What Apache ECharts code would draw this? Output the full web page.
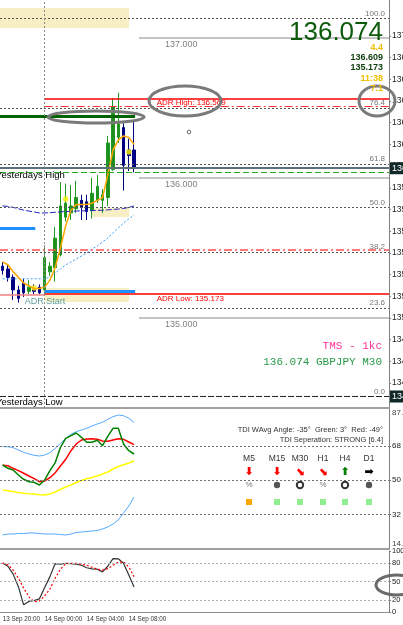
<!DOCTYPE html>
<html>
<head>
<meta charset="utf-8">
<title>GBPJPY M30</title>
<script src="https://cdn.jsdelivr.net/npm/echarts@6.0.0/dist/echarts.min.js"></script>
<style>
  html, body { margin: 0; padding: 0; background: #fff; }
  #chart { width: 403px; height: 625px; }
</style>
</head>
<body>
<div id="chart"></div>
<script>
// M30 bars, 13 Sep 20:00 .. 14 Sep 08:30
const times = [
  '13 Sep 20:00', '13 Sep 20:30', '13 Sep 21:00', '13 Sep 21:30', '13 Sep 22:00', '13 Sep 22:30',
  '13 Sep 23:00', '13 Sep 23:30', '14 Sep 00:00', '14 Sep 00:30', '14 Sep 01:00', '14 Sep 01:30',
  '14 Sep 02:00', '14 Sep 02:30', '14 Sep 03:00', '14 Sep 03:30', '14 Sep 04:00', '14 Sep 04:30',
  '14 Sep 05:00', '14 Sep 05:30', '14 Sep 06:00', '14 Sep 06:30', '14 Sep 07:00', '14 Sep 07:30',
  '14 Sep 08:00', '14 Sep 08:30'
]
const opens = [135.37, 135.35, 135.29, 135.20, 135.25, 135.19, 135.21, 135.22, 135.20, 135.33, 135.36, 135.45, 135.72,
  135.75, 135.78, 135.84, 135.83, 135.77, 135.84, 135.84, 135.86, 136.06, 136.29, 136.36, 136.20, 136.20]
const closes = [135.34, 135.29, 135.20, 135.14, 135.18, 135.22, 135.19, 135.18, 135.43, 135.37, 135.57, 135.80, 135.82,
  135.80, 135.86, 135.79, 135.76, 135.89, 135.94, 135.88, 136.25, 136.51, 136.39, 136.09, 136.16, 136.074]
const lows = [135.31, 135.26, 135.13, 135.11, 135.15, 135.17, 135.17, 135.17, 135.173, 135.30, 135.26, 135.44, 135.69,
  135.70, 135.75, 135.70, 135.70, 135.71, 135.82, 135.75, 135.80, 136.05, 136.25, 135.91, 136.05, 136.04]
const highs = [135.40, 135.38, 135.31, 135.23, 135.28, 135.27, 135.24, 135.24, 135.52, 135.40, 135.65, 135.97, 135.96,
  135.95, 135.98, 135.88, 135.88, 136.00, 136.02, 135.92, 136.30, 136.57, 136.609, 136.39, 136.28, 136.40]

// moving averages on the price panel
const maFast = [135.40, 135.38, 135.33, 135.29, 135.25, 135.23, 135.21, 135.21, 135.22, 135.27, 135.36, 135.50, 135.66,
  135.77, 135.81, 135.81, 135.81, 135.82, 135.84, 135.86, 136.02, 136.20, 136.27, 136.30, 136.29, 136.24]
const maSlow = [135.800, 135.797, 135.790, 135.780, 135.770, 135.764, 135.757, 135.750, 135.750, 135.752, 135.755,
  135.758, 135.760, 135.762, 135.764, 135.765, 135.766, 135.767, 135.768, 135.770, 135.772, 135.775, 135.778,
  135.782, 135.790, 135.800]
const maTrail = [135.28, 135.28, 135.28, 135.28, 135.28, 135.28, 135.28, 135.28, 135.28, 135.293, 135.321, 135.35,
  135.379, 135.40, 135.421, 135.443, 135.464, 135.493, 135.514, 135.543, 135.571, 135.607, 135.643, 135.679,
  135.707, 135.736]
const dotBars = [6, 12, 24]
const dotPrices = [135.214, 135.85, 136.186]

// price levels
const priceTicks = [134.535, 134.690, 134.845, 135.000, 135.155, 135.310, 135.465, 135.620, 135.775, 135.930,
  136.085, 136.240, 136.395, 136.550, 136.705, 136.860, 137.015]
const fibLevels = [0, 23.6, 38.2, 50, 61.8, 76.4, 100]
const fibLow = 134.436
const fibHigh = 137.136
const roundLevels = [135, 136, 137]
const adrHigh = 136.569
const adrLow = 135.173
const bid = 136.074
const dayHigh = 136.609
const dayLow = 135.173
const yestHigh = 136.043
const pivotHigh = 136.514
const pivotLow = 135.486
const greenLevel = 136.443
const blueLevel = 135.643
const adrStartLevel = 135.193
const preLowLevel = 135.164
const spread = '4.4'
const timeLeft = '11:38'
const adrPips = '7.1'

// TDI panel
const tdiTicks = [32, 50, 68]
const tdiUpper = [67.56, 67.56, 67.04, 65.83, 64.63, 63.74, 63.06, 62.69, 63.22, 64.42, 66.72, 69.34, 71.96, 74.05,
  75.42, 76.31, 77.2, 78.4, 79.45, 80.34, 81.91, 83.27, 84.16, 83.79, 82.43, 80.34]
const tdiLower = [21.33, 21.86, 21.86, 22.12, 22.12, 22.38, 22.38, 22.12, 21.86, 21.86, 21.86, 21.59, 21.33, 21.86,
  22.64, 22.9, 23.16, 23.43, 23.69, 24.47, 25.52, 27.09, 29.19, 32.85, 36.51, 41.23]
const tdiRed = [57.82, 57.61, 56.25, 55.0, 53.64, 52.22, 50.81, 49.24, 49.6, 51.33, 53.95, 57.46, 60.97, 65.47, 68.98,
  71.07, 71.59, 71.75, 71.44, 70.55, 70.39, 71.07, 71.75, 71.44, 70.02, 68.61]
const tdiGreen = [57.98, 56.25, 55.36, 52.74, 50.49, 49.24, 48.92, 47.51, 50.13, 54.99, 59.19, 67.25, 71.96, 73.32,
  74.73, 72.48, 69.87, 69.87, 70.91, 68.09, 73.01, 77.2, 77.2, 68.98, 65.47, 63.74]
const tdiYellow = [44.89, 44.53, 44.11, 43.58, 43.16, 42.95, 42.8, 42.43, 42.27, 42.8, 43.84, 45.15, 46.46, 47.51,
  48.82, 49.87, 50.81, 51.44, 52.22, 53.27, 54.32, 55.89, 57.2, 58.14, 59.03, 60.07]
const tfNames = ['M5', 'M15', 'M30', 'H1', 'H4', 'D1']
const tfArrows = ['⬇', '⬇', '⬊', '⬊', '⬆', '➡']
const tfArrowColors = ['#ff0000', '#ff0000', '#ff0000', '#ff0000', '#008000', '#000000']
const tfStates = ['cross', 'dot', 'ring', 'cross', 'ring', 'dot']
const tfBoxColors = ['#ffa500', '#90ee90', '#90ee90', '#90ee90', '#90ee90', '#90ee90']

// stochastic panel
const stochTicks = [0, 20, 50, 80, 100]
const stochMain = [80.4, 75.0, 62.1, 41.5, 11.8, 17.2, 18.8, 21.6, 40.0, 58.0, 79.4, 78.3, 79.9, 79.1, 78.3, 76.7,
  72.6, 70.7, 70.2, 65.8, 75.0, 87.5, 87.2, 79.9, 60.5, 41.0]
const stochSignal = [80.4, 77.5, 68.6, 55.6, 39.4, 24.8, 16.7, 18.3, 26.4, 37.8, 55.6, 70.2, 79.1, 79.9, 79.9, 78.3,
  76.7, 73.4, 70.2, 68.6, 71.0, 76.7, 81.5, 82.3, 73.9, 57.7]
const timeTicksA = [0, 16]
const timeTicksB = [8, 24]

const FONT = 'Liberation Sans'
const BARS = 74 // visible slots incl. right shift
const lastSlot = BARS - 0.5

const pts = arr => arr.map((v, i) => [i, v])

function seg(price, x0, x1, lineStyle, label) {
  return [{ coord: [x0, price], lineStyle: lineStyle, label: label || { show: false } }, { coord: [x1, price] }]
}

const fibLines = fibLevels.map(l => ({
  yAxis: fibLow + (fibHigh - fibLow) * l / 100,
  lineStyle: { color: '#555', type: [2, 2], width: 1 },
  label: { show: true, position: 'insideEndTop', formatter: l.toFixed(1), color: '#777', fontSize: 8, distance: [4, 1] }
}))

const roundLines = roundLevels.map(l => seg(l, 25.94, lastSlot,
  { color: '#c4c4c4', width: 2, type: 'solid' },
  { show: true, position: 'insideStartBottom', formatter: l.toFixed(3), color: '#808080', fontSize: 9, distance: [26, 2] }))

const mainLines = [
  ...fibLines,
  ...roundLines,
  seg(adrHigh, 8, lastSlot, { color: '#ff0000', width: 1.5, type: 'solid' },
    { show: true, position: 'insideStartBottom', formatter: 'ADR High: ' + adrHigh.toFixed(3), color: '#ff0000', fontSize: 8, distance: [112, 1] }),
  seg(pivotHigh, 8, lastSlot, { color: '#ff3030', width: 1, type: [8, 3, 2, 3] }),
  { yAxis: pivotLow, lineStyle: { color: '#ff5050', width: 1.5, type: [8, 3, 2, 3] } },
  seg(greenLevel, -0.5, 25.2, { color: '#006400', width: 3, type: 'solid' }),
  {
    yAxis: bid, lineStyle: { color: '#5f6f78', width: 2, type: 'solid' },
    label: { show: true, position: 'end', formatter: bid.toFixed(3), backgroundColor: '#102828', color: '#fff', fontSize: 9, padding: [2, 2, 1, 2], distance: [1, 0] }
  },
  { yAxis: yestHigh, lineStyle: { color: '#22aa22', width: 1, type: [6, 3] } },
  seg(blueLevel, -0.5, 6.2, { color: '#1e90ff', width: 3, type: 'solid' }),
  seg(preLowLevel, -0.5, 8, { color: '#f08080', width: 1.5, type: 'solid' }),
  seg(adrStartLevel, 8, 25.2, { color: '#1e90ff', width: 3, type: 'solid' }),
  seg(adrLow, 8, lastSlot, { color: '#ff0000', width: 1.5, type: 'solid' },
    { show: true, position: 'insideStartBottom', formatter: 'ADR Low: ' + adrLow.toFixed(3), color: '#ff0000', fontSize: 8, distance: [112, 1] }),
  {
    yAxis: fibLow, lineStyle: { color: '#222', width: 1, type: [6, 2] },
    label: { show: true, position: 'end', formatter: fibLow.toFixed(3), backgroundColor: '#102828', color: '#fff', fontSize: 9, padding: [2, 2, 1, 2], distance: [1, 0] }
  },
  { xAxis: 8, lineStyle: { color: '#888', width: 1, type: [2, 2] } }
]

const zones = [
  [{ coord: [-0.5, 137.214] }, { coord: [24.04, 137.071] }],
  [{ coord: [17.0, 135.786] }, { coord: [24.04, 135.721] }],
  [{ coord: [8.06, 135.214] }, { coord: [24.04, 135.114] }]
]

const dotted = c => ({ color: c, width: 1, type: [2, 2] })

// text / drawing objects
const tfX = [249, 277, 300, 323, 345, 369]
const graphics = [
  { type: 'ellipse', shape: { cx: 96, cy: 117, rx: 48, ry: 6 }, style: { fill: 'none', stroke: '#7a7a7a', lineWidth: 3 }, z: 50 },
  { type: 'ellipse', shape: { cx: 185, cy: 101, rx: 36, ry: 15 }, style: { fill: 'none', stroke: '#7a7a7a', lineWidth: 3 }, z: 50 },
  { type: 'ellipse', shape: { cx: 377, cy: 101, rx: 18, ry: 15 }, style: { fill: 'none', stroke: '#7a7a7a', lineWidth: 3 }, z: 50 },
  { type: 'ellipse', shape: { cx: 397, cy: 585, rx: 21, ry: 10 }, style: { fill: 'none', stroke: '#6a6a6a', lineWidth: 3 }, z: 50 },
  { type: 'circle', shape: { cx: 189, cy: 132, r: 1.8 }, style: { fill: 'none', stroke: '#666', lineWidth: 1 }, z: 50 },
  { type: 'text', x: 383, y: 33, style: { text: bid.toFixed(3), fill: '#0a5a0a', font: '26px ' + FONT, align: 'right', verticalAlign: 'middle' }, z: 50 },
  { type: 'text', x: 383, y: 48, style: { text: spread, fill: '#f0c000', font: 'bold 9px ' + FONT, align: 'right', verticalAlign: 'middle' }, z: 50 },
  { type: 'text', x: 383, y: 58, style: { text: dayHigh.toFixed(3), fill: '#0d3d0d', font: 'bold 9px ' + FONT, align: 'right', verticalAlign: 'middle' }, z: 50 },
  { type: 'text', x: 383, y: 68, style: { text: dayLow.toFixed(3), fill: '#0d3d0d', font: 'bold 9px ' + FONT, align: 'right', verticalAlign: 'middle' }, z: 50 },
  { type: 'text', x: 383, y: 79, style: { text: timeLeft, fill: '#f0c000', font: 'bold 9px ' + FONT, align: 'right', verticalAlign: 'middle' }, z: 50 },
  { type: 'text', x: 383, y: 89, style: { text: adrPips, fill: '#f0c000', font: 'bold 9px ' + FONT, align: 'right', verticalAlign: 'middle' }, z: 50 },
  { type: 'text', x: -4, y: 175, style: { text: 'Yesterdays High', fill: '#000', font: '9.5px ' + FONT, align: 'left', verticalAlign: 'middle' }, z: 50 },
  { type: 'text', x: -4, y: 402, style: { text: 'Yesterdays Low', fill: '#000', font: '9.5px ' + FONT, align: 'left', verticalAlign: 'middle' }, z: 50 },
  { type: 'text', x: 45, y: 302, style: { text: 'ADR Start', fill: '#5f9ea0', font: '9px ' + FONT, align: 'center', verticalAlign: 'middle' }, z: 50 },
  { type: 'text', x: 382, y: 346, style: { text: 'TMS - 1kc', fill: '#ff3399', font: '11px Liberation Mono', align: 'right', verticalAlign: 'middle' }, z: 50 },
  { type: 'text', x: 382, y: 362, style: { text: bid.toFixed(3) + ' GBPJPY M30', fill: '#2a9a4a', font: '11px Liberation Mono', align: 'right', verticalAlign: 'middle' }, z: 50 },
  { type: 'text', x: 392, y: 413, style: { text: '87.2', fill: '#444', font: '8px ' + FONT, align: 'left', verticalAlign: 'middle' }, z: 50 },
  { type: 'text', x: 392, y: 544, style: { text: '14.1', fill: '#444', font: '8px ' + FONT, align: 'left', verticalAlign: 'middle' }, z: 50 },
  { type: 'text', x: 383, y: 430, style: { text: 'TDI WAvg Angle: -35°  Green: 3°  Red: -49°', fill: '#333', font: '7.5px ' + FONT, align: 'right', verticalAlign: 'middle' }, z: 50 },
  { type: 'text', x: 383, y: 440, style: { text: 'TDI Seperation: STRONG [6.4]', fill: '#333', font: '7.5px ' + FONT, align: 'right', verticalAlign: 'middle' }, z: 50 }
]
tfNames.forEach((name, k) => {
  const x = tfX[k]
  graphics.push({ type: 'text', x: x, y: 459, style: { text: name, fill: '#333', font: '8.5px ' + FONT, align: 'center', verticalAlign: 'middle' }, z: 50 })
  graphics.push({ type: 'text', x: x, y: 472, style: { text: tfArrows[k], fill: tfArrowColors[k], font: 'bold 11px DejaVu Sans', align: 'center', verticalAlign: 'middle' }, z: 50 })
  if (tfStates[k] === 'dot') {
    graphics.push({ type: 'circle', shape: { cx: x, cy: 485, r: 3.2 }, style: { fill: '#555' }, z: 50 })
  } else if (tfStates[k] === 'ring') {
    graphics.push({ type: 'circle', shape: { cx: x, cy: 485, r: 3.2 }, style: { fill: 'none', stroke: '#333', lineWidth: 2 }, z: 50 })
  } else {
    graphics.push({ type: 'text', x: x, y: 485, style: { text: '%', fill: '#777', font: '8px ' + FONT, align: 'center', verticalAlign: 'middle' }, z: 50 })
  }
  graphics.push({ type: 'rect', shape: { x: x - 3, y: 499, width: 6, height: 6 }, style: { fill: tfBoxColors[k] }, z: 50 })
})

const chart = echarts.init(document.getElementById('chart'))

const xAxisBase = g => ({
  gridIndex: g,
  type: 'value',
  position: 'bottom',
  min: -0.5,
  max: lastSlot,
  axisLine: { show: true, onZero: false, lineStyle: { color: '#a0a0a0', width: 2 } },
  axisTick: { show: false },
  splitLine: { show: false },
  axisLabel: { show: false }
})

// time labels are split over two bottom axes so neighbours never collide
const timeAxis = ticks => Object.assign(xAxisBase(2), {
  axisLine: { show: true, onZero: false, lineStyle: { color: '#909090', width: 1 } },
  axisLabel: {
    show: true, customValues: ticks, formatter: v => times[Math.round(v)],
    align: 'left', fontSize: 6.3, color: '#333', margin: 4, fontFamily: FONT, hideOverlap: false
  }
})

const yAxisBase = (g, min, max, ticks, fmt, size) => ({
  gridIndex: g,
  type: 'value',
  position: 'right',
  min: min,
  max: max,
  axisLine: { show: true, onZero: false, lineStyle: { color: '#808080' } },
  axisTick: { show: true, length: 2, customValues: ticks, lineStyle: { color: '#808080' } },
  splitLine: { show: false },
  axisLabel: { customValues: ticks, formatter: fmt, fontSize: size, color: '#222', margin: 3, fontFamily: FONT, hideOverlap: false }
})

chart.setOption({
  animation: false,
  backgroundColor: '#fff',
  textStyle: { fontFamily: FONT },
  grid: [
    { left: 0, right: 14, top: 0, height: 408, outerBoundsMode: 'none', containLabel: false },
    { left: 0, right: 14, top: 409, height: 140, outerBoundsMode: 'none', containLabel: false },
    { left: 0, right: 14, top: 551, height: 61, outerBoundsMode: 'none', containLabel: false }
  ],
  xAxis: [
    xAxisBase(0),
    xAxisBase(1),
    timeAxis(timeTicksA),
    timeAxis(timeTicksB)
  ],
  yAxis: [
    yAxisBase(0, 134.357, 137.271, priceTicks, v => v.toFixed(3), 8.5),
    yAxisBase(1, 14, 87.3, tdiTicks, v => String(v), 8),
    yAxisBase(2, 0, 100, stochTicks, v => String(v), 7.5)
  ],
  series: [
    {
      type: 'candlestick',
      xAxisIndex: 0,
      yAxisIndex: 0,
      barWidth: 3,
      data: times.map((t, i) => [i, opens[i], closes[i], lows[i], highs[i]]),
      itemStyle: { color: '#1f8f1f', color0: '#000080', borderColor: '#1f9a1f', borderColor0: '#000080', borderWidth: 1 }
    },
    {
      type: 'line',
      name: 'trail',
      xAxisIndex: 0,
      yAxisIndex: 0,
      data: pts(maTrail),
      symbol: 'none',
      lineStyle: dotted('#3399ff'),
      markArea: { silent: true, itemStyle: { color: '#f7efc3' }, data: zones }
    },
    {
      type: 'line',
      name: 'slow',
      xAxisIndex: 0,
      yAxisIndex: 0,
      data: pts(maSlow),
      symbol: 'none',
      lineStyle: { color: '#2525c0', width: 1, type: [6, 2] }
    },
    {
      type: 'line',
      name: 'fast',
      xAxisIndex: 0,
      yAxisIndex: 0,
      data: pts(maFast),
      symbol: 'none',
      lineStyle: { color: '#ffa500', width: 1.5 },
      markLine: { silent: true, symbol: ['none', 'none'], label: { show: false }, data: mainLines }
    },
    {
      type: 'scatter',
      xAxisIndex: 0,
      yAxisIndex: 0,
      data: dotBars.map((b, k) => [b, dotPrices[k]]),
      symbolSize: 5,
      itemStyle: { color: '#ffff00', borderColor: '#e0d000', borderWidth: 0.5 }
    },
    {
      type: 'line', xAxisIndex: 1, yAxisIndex: 1, data: pts(tdiUpper), symbol: 'none',
      lineStyle: { color: '#55aaff', width: 1 },
      markLine: {
        silent: true, symbol: ['none', 'none'], label: { show: false },
        data: tdiTicks.map(v => ({ yAxis: v, lineStyle: { color: '#707070', width: 1, type: [2, 2] } }))
      }
    },
    { type: 'line', xAxisIndex: 1, yAxisIndex: 1, data: pts(tdiLower), symbol: 'none', lineStyle: { color: '#55aaff', width: 1 } },
    { type: 'line', xAxisIndex: 1, yAxisIndex: 1, data: pts(tdiYellow), symbol: 'none', lineStyle: { color: '#ffff00', width: 1.5 } },
    { type: 'line', xAxisIndex: 1, yAxisIndex: 1, data: pts(tdiRed), symbol: 'none', lineStyle: { color: '#ff0000', width: 1.5 } },
    { type: 'line', xAxisIndex: 1, yAxisIndex: 1, data: pts(tdiGreen), symbol: 'none', lineStyle: { color: '#008000', width: 1.5 } },
    {
      type: 'line', xAxisIndex: 2, yAxisIndex: 2, data: pts(stochMain), symbol: 'none',
      lineStyle: { color: '#333', width: 1.2 },
      markLine: {
        silent: true, symbol: ['none', 'none'], label: { show: false },
        data: [20, 50, 80].map(v => ({ yAxis: v, lineStyle: { color: '#b0b0b0', width: 1, type: [2, 2] } }))
      }
    },
    { type: 'line', xAxisIndex: 2, yAxisIndex: 2, data: pts(stochSignal), symbol: 'none', lineStyle: { color: '#ff0000', width: 1.2, type: [2, 2] } }
  ],
  graphic: graphics
})
</script>
</body>
</html>
